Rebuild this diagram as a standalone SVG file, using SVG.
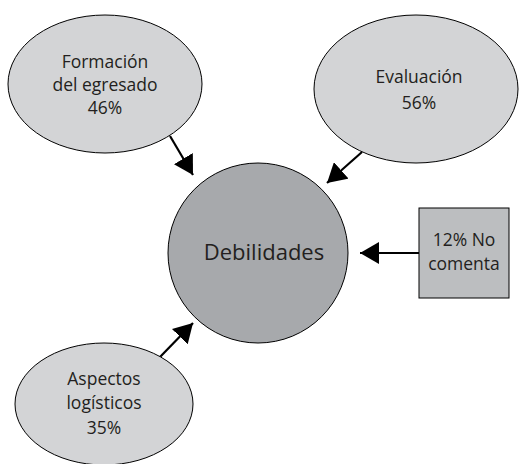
<svg xmlns="http://www.w3.org/2000/svg" width="520" height="464" viewBox="0 0 520 464">
<style>
.sat{fill:#d3d4d6;stroke:#000;stroke-width:1}
.hub{fill:#a7a9ac;stroke:#000;stroke-width:1}
.box{fill:#bcbec0;stroke:#000;stroke-width:1}
text{font-family:"Open Sans","Noto Sans",sans-serif;font-size:17.5px;fill:#231f20;text-anchor:middle}
.big{font-size:22px}
.con{stroke:#000;stroke-width:2.2;fill:none;marker-end:url(#ah)}
</style>
<defs>
<marker id="ah" markerUnits="userSpaceOnUse" markerWidth="20" markerHeight="22" refX="19" refY="11" orient="auto">
<path d="M0,0 L19,11 L0,22 Z" fill="#000"/>
</marker>
</defs>
<rect width="520" height="464" fill="#fff"/>
<g id="connectors">
<line class="con" x1="170" y1="136" x2="193" y2="175"/>
<line class="con" x1="362" y1="152" x2="327" y2="183"/>
<line class="con" x1="160" y1="357" x2="193" y2="323"/>
<line class="con" x1="419" y1="253" x2="360" y2="253"/>
</g>
<g id="formacion">
<ellipse class="sat" cx="105" cy="84" rx="97" ry="69"/>
<text x="105" y="68">Formación</text>
<text x="105" y="91">del egresado</text>
<text x="105" y="114">46%</text>
</g>
<g id="evaluacion">
<ellipse class="sat" cx="416" cy="89" rx="102" ry="74"/>
<text x="419" y="83">Evaluación</text>
<text x="419" y="109">56%</text>
</g>
<g id="debilidades">
<circle class="hub" cx="258" cy="253" r="90"/>
<text class="big" x="264" y="260">Debilidades</text>
</g>
<g id="nocomenta">
<rect class="box" x="419" y="208" width="90" height="90"/>
<text x="464" y="246">12% No</text>
<text x="464" y="270">comenta</text>
</g>
<g id="aspectos">
<ellipse class="sat" cx="104" cy="404" rx="89" ry="61"/>
<text x="104" y="385">Aspectos</text>
<text x="104" y="409">logísticos</text>
<text x="104" y="434">35%</text>
</g>
</svg>
